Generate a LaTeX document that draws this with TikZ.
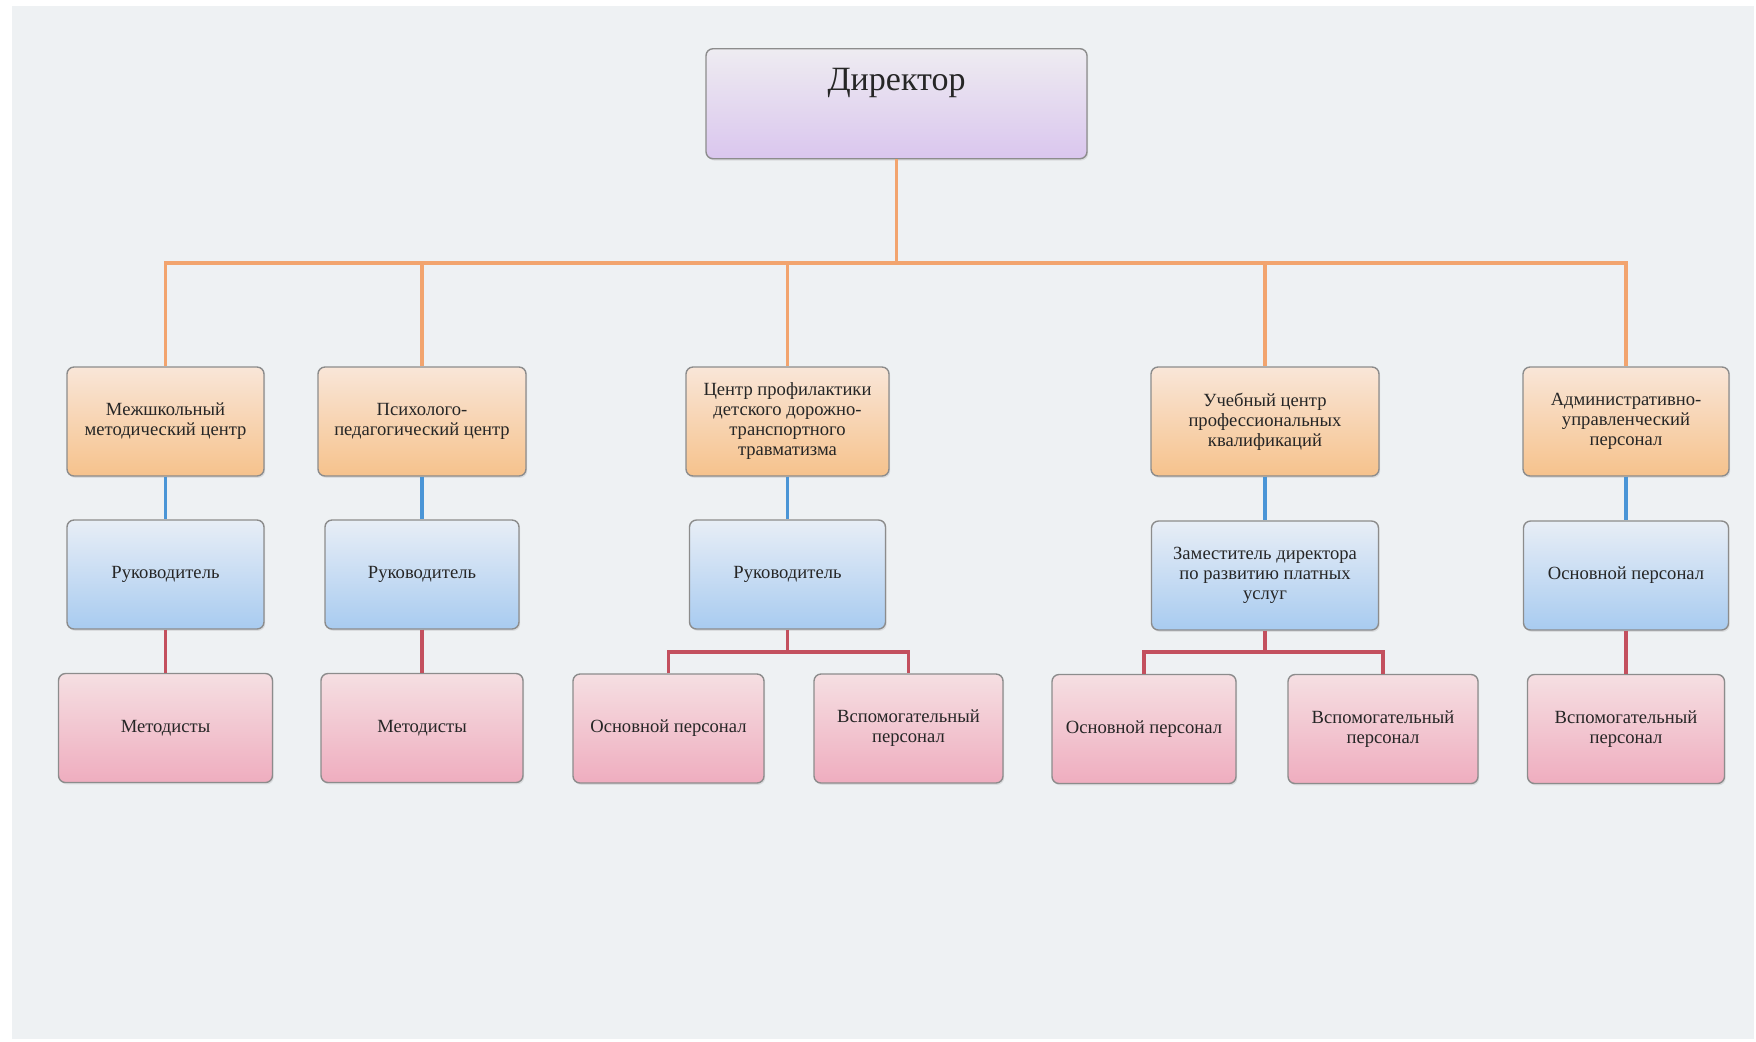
\documentclass[tikz,border=0pt]{standalone}
\usepackage{fontspec}
\setmainfont{Liberation Serif}
\usetikzlibrary{shadows}
\definecolor{bgc}{HTML}{EEF1F3}
\definecolor{bordc}{HTML}{8C8C8C}
\definecolor{otop}{HTML}{F9E6D8}
\definecolor{obot}{HTML}{F6C28C}
\definecolor{btop}{HTML}{E8EEF6}
\definecolor{bbot}{HTML}{A8CBF0}
\definecolor{ptop}{HTML}{F5DFE2}
\definecolor{pbot}{HTML}{EFADBF}
\definecolor{dtop}{HTML}{EEECF1}
\definecolor{dbot}{HTML}{DAC6EE}
\definecolor{lorange}{HTML}{F2A46E}
\definecolor{lblue}{HTML}{4A95D6}
\definecolor{lred}{HTML}{C3505E}
\definecolor{txt}{HTML}{262626}
\tikzset{
  basebox/.style={draw=bordc, line width=0.7pt, rounded corners=3.5pt, inner sep=2pt,
    minimum height=54.5pt, align=center, text=txt,
    font=\fontsize{9.3}{10}\selectfont,
    drop shadow={opacity=0.18, shadow xshift=0.6pt, shadow yshift=-0.9pt}},
  obox/.style={basebox, top color=otop, bottom color=obot},
  bbox/.style={basebox, top color=btop, bottom color=bbot},
  pbox/.style={basebox, top color=ptop, bottom color=pbot},
  dbox/.style={basebox, top color=dtop, bottom color=dbot},
  oline/.style={draw=lorange, line width=1.6pt},
  bline/.style={draw=lblue, line width=1.6pt},
  rline/.style={draw=lred, line width=1.6pt},
}
\begin{document}
\begin{tikzpicture}[x=0.5pt,y=-0.5pt]
\fill[white] (0,0) rectangle (1756,1041);
\fill[bgc] (12,6) rectangle (1754,1039);
\useasboundingbox (0,0) rectangle (1756,1041);

\coordinate (bar) at (896.5,263);

% Director
\node[dbox, minimum width=190.5pt, minimum height=55pt, anchor=north] (dir) at (896.5,48) {};
\node[font=\fontsize{17}{20}\selectfont, text=txt] (dirt) at (896.5,83) {Директор};

% Level 1
\node[obox, minimum width=98.5pt] (a1) at (165.5,421.5) {Межшкольный\\методический центр};
\node[obox, minimum width=104pt] (a2) at (422,421.5) {Психолого-\\педагогический центр};
\node[obox, minimum width=101.5pt] (a3) at (787.5,421.5) {Центр профилактики\\детского дорожно-\\транспортного\\травматизма};
\node[obox, minimum width=114pt] (a4) at (1265,421.5) {Учебный центр\\профессиональных\\квалификаций};
\node[obox, minimum width=103pt] (a5) at (1626,421.5) {Административно-\\управленческий\\персонал};

% Level 2
\node[bbox, minimum width=98.5pt] (b1) at (165.5,574.5) {Руководитель};
\node[bbox, minimum width=97pt] (b2) at (422,574.5) {Руководитель};
\node[bbox, minimum width=98pt] (b3) at (787.5,574.5) {Руководитель};
\node[bbox, minimum width=113.5pt] (b4) at (1265,575.5) {Заместитель директора\\по развитию платных\\услуг};
\node[bbox, minimum width=102.5pt] (b5) at (1626,575.5) {Основной персонал};

% Level 3
\node[pbox, minimum width=107pt] (c1) at (165.5,728) {Методисты};
\node[pbox, minimum width=101pt] (c2) at (422,728) {Методисты};
\node[pbox, minimum width=95.5pt] (c3a) at (668.5,728.5) {Основной персонал};
\node[pbox, minimum width=94.5pt] (c3b) at (908.5,728.5) {Вспомогательный\\персонал};
\node[pbox, minimum width=92pt] (c4a) at (1144,729) {Основной персонал};
\node[pbox, minimum width=95pt] (c4b) at (1383,729) {Вспомогательный\\персонал};
\node[pbox, minimum width=98.5pt] (c5) at (1626,729) {Вспомогательный\\персонал};

% orange connectors
\draw[oline] (dir.south) -- (bar);
\draw[oline] (a1.north) |- (bar) -| (a5.north);
\draw[oline] (a2.north) -- (a2.north |- bar);
\draw[oline] (a3.north) -- (a3.north |- bar);
\draw[oline] (a4.north) -- (a4.north |- bar);

% blue connectors
\foreach \i in {1,...,5} {\draw[bline] (a\i.south) -- (b\i.north);}

% red connectors
\draw[rline] (b1.south) -- (c1.north);
\draw[rline] (b2.south) -- (c2.north);
\draw[rline] (b5.south) -- (c5.north);
\coordinate (j3) at (787.5,652);
\coordinate (j4) at (1265,652);
\draw[rline] (b3.south) -- (j3);
\draw[rline] (c3a.north) |- (j3) -| (c3b.north);
\draw[rline] (b4.south) -- (j4);
\draw[rline] (c4a.north) |- (j4) -| (c4b.north);
\end{tikzpicture}
\end{document}
